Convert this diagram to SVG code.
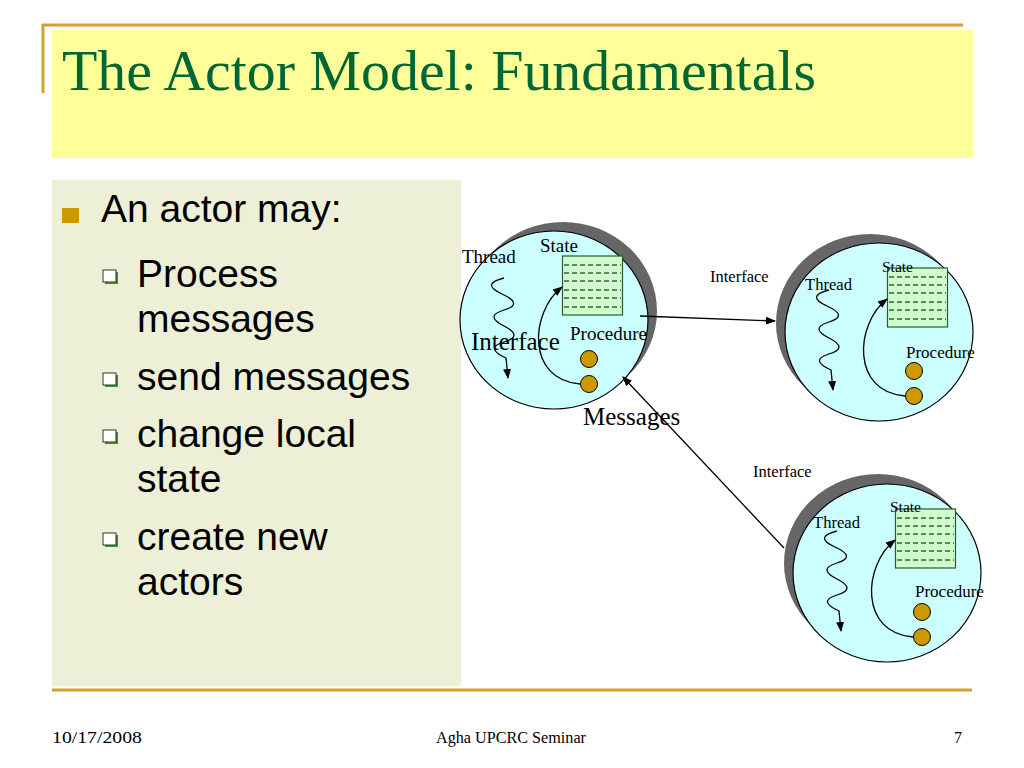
<svg xmlns="http://www.w3.org/2000/svg" xmlns:xlink="http://www.w3.org/1999/xlink" width="1024" height="768" viewBox="0 0 1024 768">
<style>
.serif{font-family:"Liberation Serif","Times New Roman",serif;fill:#000}
.sans{font-family:"Liberation Sans",Arial,sans-serif;fill:#000;font-size:39px}
.shadow{fill:#666666}
.body{fill:#ccffff;stroke:#000;stroke-width:1.2}
.state{fill:#ccffcc;stroke:#335533;stroke-width:1.2}
.dash{stroke:#000;stroke-width:1.1;stroke-dasharray:5 3}
.proc{fill:#cc9900;stroke:#000;stroke-width:1}
.arc{fill:none;stroke:#000;stroke-width:1.3}
.conn{fill:none;stroke:#000;stroke-width:1.3}
.gold{stroke:#d4a030;stroke-width:3}
.sub{fill:#fff;stroke:#333;stroke-width:1}
</style>
<defs>
<marker id="arr" viewBox="0 0 10 10" refX="9" refY="5" markerWidth="10" markerHeight="10" markerUnits="userSpaceOnUse" orient="auto">
<path d="M0,1 L10,5 L0,9 z" fill="#000"/>
</marker>
<g id="actorBody">
<ellipse class="body" cx="0" cy="0" rx="94" ry="89"/>
<rect class="state" x="8.5" y="-64" width="60" height="59"/>
<g class="dash">
<line x1="10" y1="-55" x2="67" y2="-55"/>
<line x1="10" y1="-47" x2="67" y2="-47"/>
<line x1="10" y1="-39" x2="67" y2="-39"/>
<line x1="10" y1="-30" x2="67" y2="-30"/>
<line x1="10" y1="-22" x2="67" y2="-22"/>
<line x1="10" y1="-13" x2="67" y2="-13"/>
</g>
<circle class="proc" cx="35" cy="39" r="8.5"/>
<circle class="proc" cx="35" cy="64" r="8.5"/>
<path class="arc" d="M26,64 C-28,60 -24,-8 8,-33" marker-end="url(#arr)"/>
<path class="arc" d="M-50,-42 Q-74,-36 -52,-26 T-50,-10 T-50,6 T-50,22 T-48,38 L-46,58" marker-end="url(#arr)"/>
</g>
</defs>
<rect width="1024" height="768" fill="#fff"/>

<g id="title">
<rect x="52" y="30" width="921" height="128" fill="#ffff99"/>
<line class="gold" x1="42" y1="25" x2="963" y2="25"/>
<line class="gold" x1="43" y1="24" x2="43" y2="93" stroke-width="2"/>
<text x="62" y="90" font-family="'Liberation Serif','Times New Roman',serif" font-size="57" fill="#006633" textLength="754" lengthAdjust="spacingAndGlyphs">The Actor Model: Fundamentals</text>
</g>

<g id="bullets">
<rect x="52" y="180" width="409" height="506" fill="#edf0d6"/>
<rect x="62" y="208" width="17" height="15" fill="#cc9900"/>
<text class="sans" x="101" y="222">An actor may:</text>
<rect x="105" y="272" width="13" height="12" fill="#339933"/>
<rect class="sub" x="103" y="270" width="13" height="12"/>
<text class="sans" x="137" y="287">Process</text>
<text class="sans" x="137" y="332">messages</text>
<rect x="105" y="375" width="13" height="12" fill="#339933"/>
<rect class="sub" x="103" y="373" width="13" height="12"/>
<text class="sans" x="137" y="390">send messages</text>
<rect x="105" y="432" width="13" height="12" fill="#339933"/>
<rect class="sub" x="103" y="430" width="13" height="12"/>
<text class="sans" x="137" y="447">change local</text>
<text class="sans" x="137" y="492">state</text>
<rect x="105" y="535" width="13" height="12" fill="#339933"/>
<rect class="sub" x="103" y="533" width="13" height="12"/>
<text class="sans" x="137" y="550">create new</text>
<text class="sans" x="137" y="595">actors</text>
</g>

<g id="actor1" transform="translate(554,320)">
<ellipse class="shadow" cx="9" cy="-9" rx="94" ry="89"/>
<use xlink:href="#actorBody" href="#actorBody"/>
<text class="serif" x="-92" y="-57" font-size="19">Thread</text>
<text class="serif" x="-14" y="-68" font-size="19">State</text>
<text class="serif" x="-83" y="30" font-size="25">Interface</text>
<text class="serif" x="16" y="20" font-size="19">Procedure</text>
</g>

<g id="actor2" transform="translate(879,332)">
<ellipse class="shadow" cx="-9" cy="-9" rx="94" ry="89"/>
<use xlink:href="#actorBody" href="#actorBody"/>
<text class="serif" x="-74" y="-42" font-size="16.6">Thread</text>
<text class="serif" x="3" y="-60" font-size="15.5">State</text>
<text class="serif" x="27" y="26" font-size="17">Procedure</text>
</g>

<g id="actor3" transform="translate(887,573)">
<ellipse class="shadow" cx="-9" cy="-10" rx="94" ry="89"/>
<use xlink:href="#actorBody" href="#actorBody"/>
<text class="serif" x="-74" y="-45" font-size="16.6">Thread</text>
<text class="serif" x="3" y="-61" font-size="15.5">State</text>
<text class="serif" x="28" y="24" font-size="17">Procedure</text>
</g>

<g id="connectors">
<line class="conn" x1="640" y1="316" x2="775" y2="321" marker-end="url(#arr)"/>
<line class="conn" x1="784" y1="548" x2="623" y2="377" marker-end="url(#arr)"/>
<text class="serif" x="710" y="282" font-size="16.5">Interface</text>
<text class="serif" x="753" y="477" font-size="16.5">Interface</text>
<text class="serif" x="583" y="425" font-size="25">Messages</text>
</g>

<g id="footer">
<line class="gold" x1="52" y1="690" x2="972" y2="690"/>
<text class="serif" x="52" y="743" font-size="16" textLength="90" lengthAdjust="spacingAndGlyphs">10/17/2008</text>
<text class="serif" x="436" y="743" font-size="16" textLength="150" lengthAdjust="spacingAndGlyphs">Agha UPCRC Seminar</text>
<text class="serif" x="954" y="743" font-size="16">7</text>
</g>
</svg>
